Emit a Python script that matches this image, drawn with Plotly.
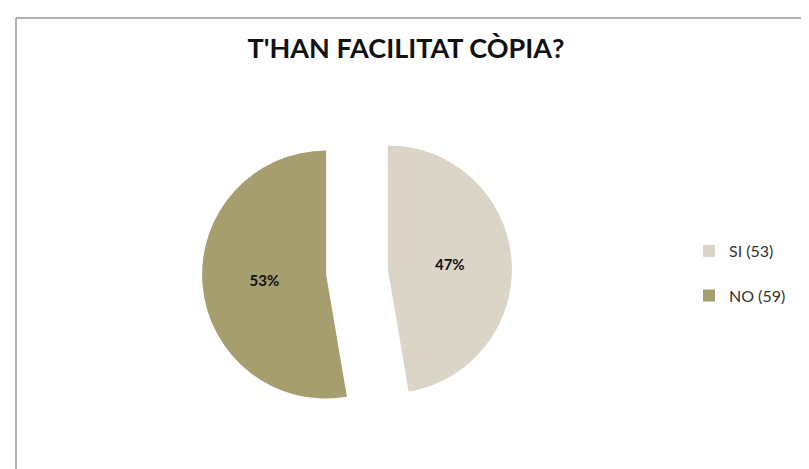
import plotly.graph_objects as go

# Data
categories = ["SI (53)", "NO (59)"]
values = [53, 59]
slice_colors = ["#DAD5C6", "#A69E6E"]
title_text = "T'HAN FACILITAT CÒPIA?"

W, H = 809, 469

legend_labels = [c + "<br> " for c in categories]

fig = go.Figure(
    go.Pie(
        labels=legend_labels,
        values=values,
        sort=False,
        direction="clockwise",
        rotation=0,
        pull=[0.25, 0.25],
        marker=dict(colors=slice_colors, line=dict(width=0)),
        textinfo="percent",
        texttemplate="%{percent:.0%}",
        textposition="inside",
        insidetextorientation="horizontal",
        textfont=dict(family="Lato, Open Sans, sans-serif", size=15, color="#111111", weight="bold"),
        hoverinfo="skip",
        domain=dict(x=[194 / W, 504 / W], y=[1 - 419 / H, 1 - 109 / H]),
    )
)

fig.update_layout(
    width=W,
    height=H,
    margin=dict(l=0, r=0, t=0, b=0),
    paper_bgcolor="white",
    plot_bgcolor="white",
    title=dict(
        text="<b>" + title_text + "</b>",
        x=398 / W,
        xanchor="center",
        y=1 - 41 / H,
        yanchor="middle",
        xref="container",
        yref="container",
        font=dict(family="Lato, Open Sans, sans-serif", size=27, color="#111111"),
    ),
    showlegend=True,
    legend=dict(
        x=681 / W,
        xanchor="left",
        y=1 - 226 / H,
        yanchor="top",
        valign="top",
        font=dict(family="Lato, Open Sans, sans-serif", size=16, color="#333333"),
        itemwidth=30,
        bgcolor="rgba(0,0,0,0)",
    ),
    shapes=[
        dict(type="line", xref="paper", yref="paper",
             x0=8 / W, x1=1.0, y0=1 - 10 / H, y1=1 - 10 / H,
             line=dict(color="#B5B0B0", width=2)),
        dict(type="line", xref="paper", yref="paper",
             x0=8 / W, x1=8 / W, y0=0, y1=1 - 10 / H,
             line=dict(color="#B5B0B0", width=2)),
    ],
)

fig.write_html("out.html")
